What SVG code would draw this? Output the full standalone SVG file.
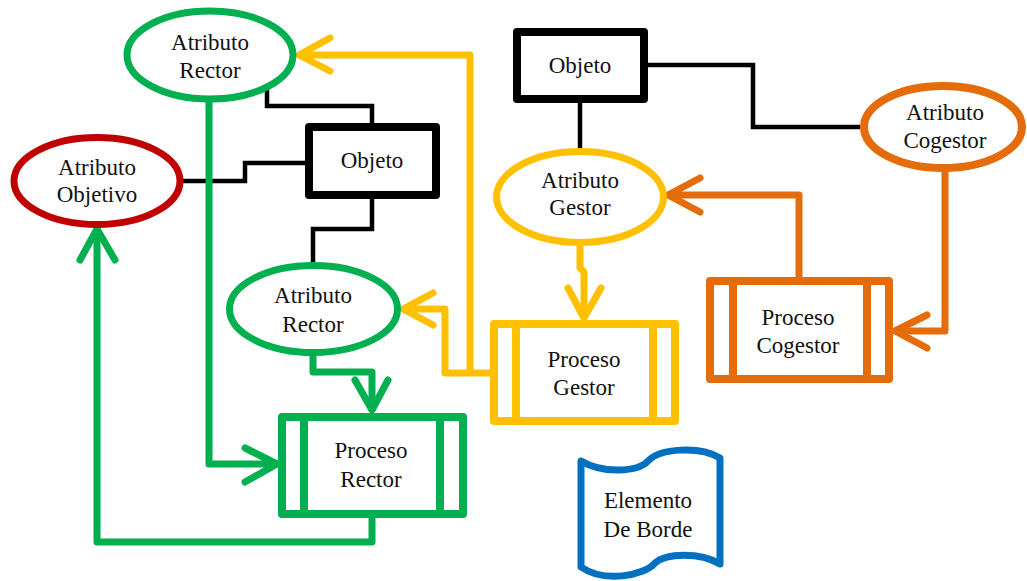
<svg xmlns="http://www.w3.org/2000/svg" width="1027" height="581" viewBox="0 0 1027 581" font-family="'Liberation Serif', 'DejaVu Serif', serif">
<style>
text{font-family:"Liberation Serif","Times New Roman","DejaVu Serif",serif;font-size:23px;fill:#111;text-anchor:middle}
.n{fill:#fff;stroke-linejoin:round}
.g{stroke:#00B050}
.y{stroke:#FFC000}
.o{stroke:#E46C0A}
.r{stroke:#C00000}
.b{stroke:#0070C0}
.k{stroke:#000}
.c{fill:none;stroke-width:7;stroke-linejoin:round}
.ck{fill:none;stroke:#000;stroke-width:4.5;stroke-linejoin:miter}
.ah{fill:none;stroke-width:7;stroke-linecap:round;stroke-linejoin:round}
</style>
<rect width="1027" height="581" fill="#fff"/>
<g id="connectors">
  <path class="ck" d="M267,87 V106 H372 V124"/>
  <path class="ck" d="M305,163 H245 V181 H183"/>
  <path class="ck" d="M372,199 V229 H313 V263"/>
  <path class="ck" d="M580,103 V150"/>
  <path class="ck" d="M648,65 H753 V127 H860"/>
  <path class="c g" d="M209,102 V464 H276"/>
  <path class="ah g" d="M245,448 L277,464 L245,482"/>
  <path class="c g" d="M313,356 V372 H372 V411"/>
  <path class="ah g" d="M355,380 L372,410 L388,380"/>
  <path class="c g" d="M372,518 V542 H97 V230"/>
  <path class="ah g" d="M80,260 L97,229 L115,260"/>
  <path class="c y" d="M490,373 H445 V309 H403"/>
  <path class="ah y" d="M433,293 L403,309 L433,325"/>
  <path class="c y" d="M470,373 V55 H299"/>
  <path class="ah y" d="M330,38 L299,55 L330,71"/>
  <path class="c y" d="M580,246 V268 L584,272 V318"/>
  <path class="ah y" d="M568,288 L584,318 L601,288"/>
  <path class="c o" d="M799,277 V195 H668"/>
  <path class="ah o" d="M700,178 L668,195 L700,212"/>
  <path class="c o" d="M945,171 V331 H895"/>
  <path class="ah o" d="M927,315 L895,331 L927,348"/>
</g>
<g id="atributo-rector-1">
  <ellipse class="n g" stroke-width="7" cx="210" cy="55" rx="83" ry="44"/>
  <text x="210" y="50">Atributo</text>
  <text x="210" y="78">Rector</text>
</g>
<g id="atributo-objetivo">
  <ellipse class="n r" stroke-width="7" cx="97" cy="181" rx="83" ry="43.5"/>
  <text x="97" y="175">Atributo</text>
  <text x="97" y="202">Objetivo</text>
</g>
<g id="objeto-1">
  <rect class="n k" stroke-width="8" x="309" y="127" width="127" height="68"/>
  <text x="372" y="168">Objeto</text>
</g>
<g id="atributo-rector-2">
  <ellipse class="n g" stroke-width="7" cx="313.5" cy="309" rx="84" ry="43.5"/>
  <text x="313" y="303">Atributo</text>
  <text x="313" y="332">Rector</text>
</g>
<g id="proceso-rector">
  <rect class="n g" stroke-width="8" x="282" y="417" width="181" height="97"/>
  <path class="g" stroke-width="8" d="M304,417 V514 M440,417 V514"/>
  <text x="371" y="458">Proceso</text>
  <text x="371" y="487">Rector</text>
</g>
<g id="objeto-2">
  <rect class="n k" stroke-width="8" x="517" y="32" width="127" height="67"/>
  <text x="580" y="73">Objeto</text>
</g>
<g id="atributo-gestor">
  <ellipse class="n y" stroke-width="7" cx="580" cy="197" rx="83.5" ry="45.5"/>
  <text x="580" y="188">Atributo</text>
  <text x="580" y="215">Gestor</text>
</g>
<g id="proceso-gestor">
  <rect class="n y" stroke-width="8" x="494" y="324" width="181" height="97"/>
  <path class="y" stroke-width="8" d="M516,324 V421 M653,324 V421"/>
  <text x="584" y="367">Proceso</text>
  <text x="584" y="395">Gestor</text>
</g>
<g id="atributo-cogestor">
  <ellipse class="n o" stroke-width="8" cx="943" cy="127" rx="79" ry="41"/>
  <text x="945" y="120">Atributo</text>
  <text x="945" y="148">Cogestor</text>
</g>
<g id="proceso-cogestor">
  <rect class="n o" stroke-width="8" x="710" y="281" width="179" height="98"/>
  <path class="o" stroke-width="8" d="M733,281 V379 M867,281 V379"/>
  <text x="798" y="325">Proceso</text>
  <text x="798" y="353">Cogestor</text>
</g>
<g id="elemento-de-borde">
  <path class="n b" stroke-width="7" d="M581,461 C603,474 638,472 648,461 C660,448 700,446 720,458 L720,564 C700,552 666,553 655,563 C644,576 604,583 581,567 Z"/>
  <text x="648" y="508">Elemento</text>
  <text x="648" y="537">De Borde</text>
</g>
</svg>
